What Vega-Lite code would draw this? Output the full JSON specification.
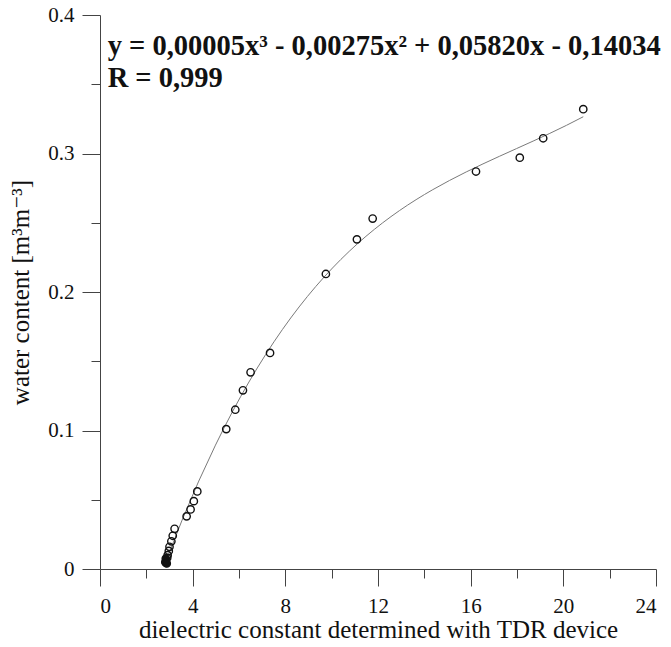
{
  "$schema": "https://vega.github.io/schema/vega-lite/v6.json",
  "autosize": {"type": "none"},
  "padding": {"left": 100, "top": 15, "right": 15, "bottom": 78},
  "width": 556,
  "height": 554,
  "background": "white",
  "config": {
    "view": {"stroke": null},
    "font": "'Liberation Serif', 'DejaVu Serif', serif",
    "axis": {
      "grid": false,
      "domainColor": "#444",
      "tickColor": "#444",
      "labelColor": "#111",
      "titleColor": "#111",
      "labelFont": "'Liberation Serif', 'DejaVu Serif', serif",
      "titleFont": "'Liberation Serif', 'DejaVu Serif', serif",
      "labelFontSize": 21,
      "titleFontSize": 25,
      "titleFontWeight": "normal"
    }
  },
  "datasets": {
    "measured": [
      {"eps": 20.86, "theta": 0.332, "kind": "open"},
      {"eps": 19.13, "theta": 0.311, "kind": "open"},
      {"eps": 18.12, "theta": 0.297, "kind": "open"},
      {"eps": 16.23, "theta": 0.287, "kind": "open"},
      {"eps": 11.77, "theta": 0.253, "kind": "open"},
      {"eps": 11.09, "theta": 0.238, "kind": "open"},
      {"eps": 9.75, "theta": 0.213, "kind": "open"},
      {"eps": 7.34, "theta": 0.156, "kind": "open"},
      {"eps": 6.5, "theta": 0.142, "kind": "open"},
      {"eps": 6.17, "theta": 0.129, "kind": "open"},
      {"eps": 5.84, "theta": 0.115, "kind": "open"},
      {"eps": 5.45, "theta": 0.101, "kind": "open"},
      {"eps": 4.2, "theta": 0.056, "kind": "open"},
      {"eps": 4.05, "theta": 0.049, "kind": "open"},
      {"eps": 3.91, "theta": 0.043, "kind": "open"},
      {"eps": 3.74, "theta": 0.038, "kind": "open"},
      {"eps": 3.22, "theta": 0.029, "kind": "open"},
      {"eps": 3.14, "theta": 0.024, "kind": "open"},
      {"eps": 3.08, "theta": 0.02, "kind": "open"},
      {"eps": 3.0, "theta": 0.016, "kind": "open"},
      {"eps": 2.97, "theta": 0.013, "kind": "open"},
      {"eps": 2.92, "theta": 0.01, "kind": "open"},
      {"eps": 2.9, "theta": 0.008, "kind": "open"},
      {"eps": 2.84, "theta": 0.0075, "kind": "filled"},
      {"eps": 2.82, "theta": 0.005, "kind": "filled"},
      {"eps": 2.88, "theta": 0.004, "kind": "filled"},
      {"eps": 2.85, "theta": 0.0045, "kind": "filled"}
    ],
    "fit": [
      {"line": "y = 0,00005x³ - 0,00275x² + 0,05820x - 0,14034", "eps": 0.33, "theta": 0.371},
      {"line": "R = 0,999", "eps": 0.33, "theta": 0.348}
    ]
  },
  "resolve": {"axis": {"x": "independent", "y": "independent"}},
  "layer": [
    {
      "data": {"name": "measured"},
      "transform": [
        {"regression": "theta", "on": "eps", "method": "poly", "order": 3}
      ],
      "mark": {"type": "line", "color": "#7a7a7a", "strokeWidth": 1},
      "encoding": {
        "x": {
          "field": "eps",
          "type": "quantitative",
          "scale": {"domain": [0, 24], "nice": false, "zero": false},
          "axis": {
            "orient": "bottom",
            "title": "dielectric constant determined with TDR device",
            "values": [0, 4, 8, 12, 16, 20, 24],
            "tickSize": 17,
            "labelPadding": 9,
            "titlePadding": 1
          }
        },
        "y": {
          "field": "theta",
          "type": "quantitative",
          "scale": {"domain": [0, 0.4], "nice": false, "zero": false},
          "axis": {
            "orient": "left",
            "title": "water content [m³m⁻³]",
            "values": [0, 0.1, 0.2, 0.3, 0.4],
            "format": ".1~f",
            "tickSize": 18,
            "labelPadding": 8,
            "titlePadding": 14
          }
        }
      }
    },
    {
      "data": {"name": "measured"},
      "mark": {"type": "point", "shape": "circle", "size": 54, "strokeWidth": 1.4, "opacity": 1},
      "encoding": {
        "x": {
          "field": "eps",
          "type": "quantitative",
          "axis": {
            "orient": "bottom",
            "title": null,
            "values": [2, 6, 10, 14, 18, 22],
            "labels": false,
            "domain": false,
            "tickSize": 9
          }
        },
        "y": {
          "field": "theta",
          "type": "quantitative",
          "axis": {
            "orient": "left",
            "title": null,
            "values": [0.05, 0.15, 0.25, 0.35],
            "labels": false,
            "domain": false,
            "tickSize": 9
          }
        },
        "stroke": {"value": "#111"},
        "fill": {
          "field": "kind",
          "type": "nominal",
          "scale": {"domain": ["open", "filled"], "range": ["transparent", "#111"]},
          "legend": null
        }
      }
    },
    {
      "data": {"name": "fit"},
      "mark": {"type": "text", "align": "left", "baseline": "alphabetic", "font": "'Liberation Serif', 'DejaVu Serif', serif", "fontWeight": "bold", "fontSize": 28.5, "color": "#111"},
      "encoding": {
        "x": {"field": "eps", "type": "quantitative", "axis": null},
        "y": {"field": "theta", "type": "quantitative", "axis": null},
        "text": {"field": "line"}
      }
    }
  ]
}
